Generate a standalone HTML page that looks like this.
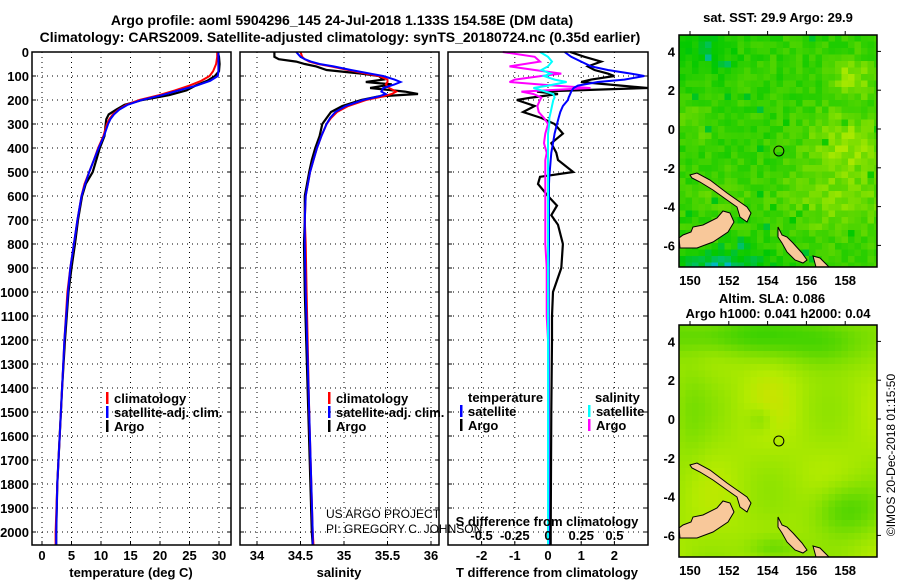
<!DOCTYPE html>
<html><head><meta charset="utf-8">
<style>
body{margin:0;background:#fff;}
svg{display:block;font-family:"Liberation Sans",sans-serif;}
.b{font-weight:bold;font-size:13px;}
.t{font-weight:bold;font-size:14px;}
</style></head>
<body>
<svg id="s" width="900" height="580" xmlns="http://www.w3.org/2000/svg">
<text class="t" x="342" y="25" text-anchor="middle">Argo profile: aoml 5904296_145 24-Jul-2018 1.133S 154.58E (DM data)</text>
<text class="t" x="340" y="42" text-anchor="middle">Climatology: CARS2009. Satellite-adjusted climatology: synTS_20180724.nc (0.35d earlier)</text>
</svg>
<script>
// ---------- data ----------
const depthTicks=[0,100,200,300,400,500,600,700,800,900,1000,1100,1200,1300,1400,1500,1600,1700,1800,1900,2000];
const tempTicks=[0,5,10,15,20,25,30];
const salTicks=[34,34.5,35,35.5,36];
const tdiffTicks=[-2,-1,0,1,2];
const sdiffTicks=[-0.5,-0.25,0,0.25,0.5];
const sdiffLabels=["-0.5","-0.25","0","0.25","0.5"];

const depthT=[0,20,50,80,100,120,140,160,180,200,220,240,260,280,300,350,400,450,500,550,600,700,800,900,1000,1200,1400,1600,1800,2000,2054];
const tempClim=[29.7,29.7,29.5,29.0,28.4,27.0,25.0,22.5,19.8,16.5,14.3,13.0,12.0,11.4,11.0,10.4,9.5,8.8,8.0,7.2,6.7,6.0,5.4,4.8,4.3,3.8,3.4,3.0,2.6,2.3,2.3];
const tempSat=[29.9,29.9,29.9,29.9,29.8,28.5,26.2,23.2,20.3,16.9,14.5,13.1,12.2,11.6,11.2,10.5,9.6,8.8,8.0,7.3,6.7,6.0,5.4,4.8,4.4,3.8,3.4,3.0,2.6,2.4,2.4];
const tempArgo=[29.8,30.0,30.1,30.0,29.3,28.0,26.0,24.5,21.5,17.0,14.0,12.6,11.3,10.9,10.8,10.6,9.8,9.2,8.6,7.4,6.8,6.1,5.6,5.0,4.5,3.9,3.4,3.0,2.6,2.4,2.4];

const depthS=[0,20,30,40,50,60,75,90,100,115,125,135,150,165,175,185,200,225,250,275,300,350,400,450,500,600,700,800,1000,1500,2000,2054];
const salClim=[34.5,34.52,34.55,34.6,34.7,34.85,35.05,35.25,35.4,35.5,35.5,35.48,35.52,35.6,35.55,35.45,35.25,35.05,34.92,34.85,34.8,34.74,34.69,34.65,34.61,34.56,34.55,34.56,34.57,34.6,34.64,34.65];
const salSat=[34.45,34.5,34.55,34.62,34.72,34.88,35.08,35.3,35.45,35.58,35.65,35.58,35.45,35.43,35.48,35.4,35.22,35.02,34.9,34.84,34.8,34.74,34.69,34.65,34.61,34.56,34.55,34.55,34.56,34.6,34.64,34.64];
const salArgo=[34.2,34.2,34.25,34.45,34.55,34.68,34.8,35.2,35.4,35.45,35.25,35.55,35.3,35.7,35.85,35.4,35.2,34.98,34.85,34.8,34.75,34.72,34.67,34.63,34.6,34.55,34.55,34.54,34.55,34.59,34.63,34.64];

const depthD=[0,20,40,60,75,90,100,115,125,140,150,165,175,190,200,225,250,275,300,340,380,420,450,500,520,550,600,640,680,720,800,900,1000,1100,1200,1500,2000,2054];
const tdiffSat=[0.5,0.7,1.0,1.3,1.8,2.5,2.9,2.3,1.5,0.9,0.77,0.7,0.67,0.62,0.6,0.45,0.37,0.32,0.27,0.2,0.15,0.1,0.08,0.05,0.04,0.03,0.03,0.03,0.03,0.03,0.03,0.02,0.02,0.02,0.02,0.02,0.02,0.02];
const tdiffArgo=[0.67,1.1,1.6,1.2,1.4,1.8,2.0,1.3,1.0,2.2,3.0,-0.33,0.3,-0.5,-0.94,-0.4,-0.75,-0.2,0.2,0.45,0.1,0.25,0.3,0.76,-0.24,-0.3,0.0,0.27,0.1,0.3,0.45,0.4,0.15,0.12,0.12,0.1,0.08,0.08];
const sdiffSat=[-0.06,0.0,0.03,0.0,-0.05,0.02,-0.03,0.05,0.14,0.0,-0.11,-0.02,0.04,0.05,0.04,0.03,0.02,0.01,0.01,0.0,0.0,0.0,0.0,0.0,0.0,0.0,0.0,0.0,0.0,0.0,0.0,0.0,0.0,0.0,0.0,0.0,0.0,0.0];
const sdiffArgo=[-0.34,-0.1,-0.06,-0.29,-0.1,0.1,-0.05,-0.25,-0.29,0.05,0.32,-0.2,-0.11,-0.05,-0.06,-0.08,-0.07,-0.03,0.0,-0.02,-0.03,-0.01,-0.02,-0.02,-0.02,-0.02,-0.02,-0.02,-0.02,-0.02,-0.02,-0.01,-0.01,-0.01,0.0,0.0,0.0,0.0];

const lonTicks=[150,152,154,156,158];
const latTicks=[4,2,0,-2,-4,-6];
const argoLon=[154.58], argoLat=[-1.133];

// ---------- helpers ----------
const NS="http://www.w3.org/2000/svg";
const S=document.getElementById('s');
function mk(tag,attrs,parent){const e=document.createElementNS(NS,tag);for(const k in attrs)e.setAttribute(k,attrs[k]);(parent||S).appendChild(e);return e;}
const Y0=52,Y1=545;
const yD=d=>Y0+d*0.24;
const xTemp=v=>42+v*5.9;
const xSal=v=>257+(v-34)*87;
const xTd=v=>548+v*33.2;
const xSd=v=>548+v*132.8;

function frame(x0,x1,name){
  const r=mk('rect',{x:x0,y:Y0,width:x1-x0,height:Y1-Y0,fill:'none',stroke:'#000','stroke-width':1.5});
  
  
}
function grid(x0,x1,xs){
  const g=mk('g',{stroke:'#000','stroke-width':1,'stroke-dasharray':'1 4'});
  
  
  depthTicks.forEach(d=>{const y=yD(d);if(d>0)mk('line',{x1:x0,x2:x1,y1:y,y2:y},g);
    mk('line',{x1:x0,x2:x0+4,y1:y,y2:y,'stroke-dasharray':'none'},g);mk('line',{x1:x1-4,x2:x1,y1:y,y2:y,'stroke-dasharray':'none'},g);});
  xs.forEach(x=>{mk('line',{x1:x,x2:x,y1:Y0,y2:Y1},g);mk('line',{x1:x,x2:x,y1:Y1-4,y2:Y1,'stroke-dasharray':'none'},g);});
}
function line(depths,vals,xf,color,name,w){
  const p=mk('polyline',{points:depths.map((d,i)=>xf(vals[i]).toFixed(1)+','+yD(d).toFixed(1)).join(' '),fill:'none',stroke:color,'stroke-width':w||2});
  
  
}
function txt(x,y,s,cls,anchor,name,extra){
  const t=mk('text',Object.assign({x:x,y:y,class:cls||'b','text-anchor':anchor||'start'},extra||{}));
  t.textContent=s;
  
  
  return t;
}
function legItem(x,y,color,label,name){
  const r=mk('rect',{x:x,y:y-11,width:2.5,height:12,fill:color});
  
  
  txt(x+8,y,label,'b','start',name);
}

// ---------- panel 1 temperature ----------
grid(32,231,tempTicks.map(xTemp));
line(depthT,tempArgo,xTemp,'#000','argo-temperature-line',2.2);
line(depthT,tempClim,xTemp,'#f00','climatology-temperature-line');
line(depthT,tempSat,xTemp,'#00f','satellite-temperature-line');
frame(32,231,'temperature-panel');
depthTicks.forEach(d=>txt(29,yD(d)+5,String(d),'b','end','depth-tick-label'));
tempTicks.forEach(v=>txt(xTemp(v),560,String(v),'b','middle','temperature-tick-label'));
txt(131,577,'temperature (deg C)','b','middle','temperature-axis-title');
legItem(106,403,'#f00','climatology','legend-climatology');
legItem(106,417,'#00f','satellite-adj. clim.','legend-satellite-adj');
legItem(106,431,'#000','Argo','legend-argo');

// ---------- panel 2 salinity ----------
grid(240,439,salTicks.map(xSal));
line(depthS,salArgo,xSal,'#000','argo-salinity-line',2.2);
line(depthS,salClim,xSal,'#f00','climatology-salinity-line');
line(depthS,salSat,xSal,'#00f','satellite-salinity-line');
frame(240,439,'salinity-panel');
salTicks.forEach(v=>txt(xSal(v),560,String(v),'b','middle','salinity-tick-label'));
txt(339,577,'salinity','b','middle','salinity-axis-title');
legItem(328,403,'#f00','climatology','legend-climatology-2');
legItem(328,417,'#00f','satellite-adj. clim.','legend-satellite-adj-2');
legItem(328,431,'#000','Argo','legend-argo-2');
txt(326,518,'US ARGO PROJECT','b','start','credit-project',{style:'font-weight:normal;font-size:12px'});
txt(326,533,'PI: GREGORY C. JOHNSON','b','start','credit-pi',{style:'font-weight:normal;font-size:12px'});

// ---------- panel 3 differences ----------
grid(448,648,tdiffTicks.map(xTd));
line(depthD,tdiffArgo,xTd,'#000','argo-temperature-difference-line',2.2);
line(depthD,sdiffArgo,xSd,'#f0f','argo-salinity-difference-line');
line(depthD,tdiffSat,xTd,'#00f','satellite-temperature-difference-line');
line(depthD,sdiffSat,xSd,'#0ff','satellite-salinity-difference-line');
frame(448,648,'difference-panel');
tdiffTicks.forEach(v=>txt(xTd(v),560,String(v),'b','middle','t-difference-tick-label'));
sdiffTicks.forEach((v,i)=>txt(xSd(v),540,sdiffLabels[i],'b','middle','s-difference-tick-label'));
txt(547,526,'S difference from climatology','b','middle','s-difference-axis-title');
txt(547,577,'T difference from climatology','b','middle','t-difference-axis-title');
txt(468,402,'temperature','b','start','legend-temperature-heading');
legItem(460,416,'#00f','satellite','legend-t-satellite');
legItem(460,430,'#000','Argo','legend-t-argo');
txt(595,402,'salinity','b','start','legend-salinity-heading');
legItem(588,416,'#0ff','satellite','legend-s-satellite');
legItem(588,430,'#f0f','Argo','legend-s-argo');

// ---------- maps ----------
const MX0=679,MX1=877;
const xLon=l=>690+(l-150)*19.4;
function hsh(i,j){let h=(i*374761393+j*668265263)^0x5bd1e995;h=(h^(h>>>13))*1274126177;return ((h^(h>>>16))>>>0)/4294967296;}
function col1(v){
  const st=[[0,[0,185,190]],[0.3,[0,200,0]],[0.55,[90,215,0]],[0.75,[180,235,0]],[0.9,[235,215,0]],[1,[245,170,0]]];
  v=Math.max(0,Math.min(1,v));
  for(let k=1;k<st.length;k++){if(v<=st[k][0]){const a=st[k-1],b=st[k],t=(v-a[0])/(b[0]-a[0]);return 'rgb('+a[1].map((c,m)=>Math.round(c+(b[1][m]-c)*t)).join(',')+')';}}
  return 'rgb(245,170,0)';
}
function gb(i,j,ci,cj,ri,rj){const a=(i-ci)/ri,b=(j-cj)/rj;return Math.exp(-(a*a+b*b));}
const landNB=[[679,238],[680,248],[697,248],[713,242],[728,232],[734,222],[730,213],[723,211],[717,218],[703,225],[693,227],[691,232],[683,235]];
const landNI=[[690,175],[697,173],[710,180],[727,193],[737,200],[747,207],[751,213],[747,222],[740,217],[737,207],[727,200],[713,190],[700,182],[692,178]];
const landBV=[[778,227],[782,235],[787,237],[793,243],[802,253],[807,260],[803,263],[795,260],[787,252],[782,243],[778,237]];
const landBK=[[813,256],[820,258],[829,267],[816,267]];
function drawMap(top,fieldFn,name){
  const g=mk('g',{});
  
  
  const cs=6.5;
  for(let i=0;i*cs<MX1-MX0;i++)for(let j=0;j*cs<232;j++){
    const x=MX0+i*cs,y=top+j*cs;
    mk('rect',{x:x,y:y,width:Math.min(cs,MX1-x)+0.3,height:Math.min(cs,top+232-y)+0.3,fill:col1(fieldFn(i,j)),'shape-rendering':'crispEdges'},g);
  }
  const dy=top-35;
  [landNB,landNI,landBV,landBK].forEach(p=>{
    const pg=mk('polygon',{points:p.map(q=>q[0]+','+(q[1]+dy)).join(' '),fill:'#f8c89a',stroke:'#000','stroke-width':1},g);
    
    
  });
  const c=mk('circle',{cx:xLon(argoLon[0]),cy:top+94+(-argoLat[0])*19.4,r:5,fill:'none',stroke:'#000','stroke-width':1});
  
  
  const f=mk('rect',{x:MX0,y:top,width:MX1-MX0,height:232,fill:'none',stroke:'#000','stroke-width':1.5});
  
  
  lonTicks.forEach(l=>{mk('line',{x1:xLon(l),x2:xLon(l),y1:top,y2:top-4,stroke:'#000'});txt(xLon(l),top+250,String(l),'b','middle','longitude-tick-label');});
  latTicks.forEach(a=>{const y=top+94-a*19.4;mk('line',{x1:MX1,x2:MX1+4,y1:y,y2:y,stroke:'#000'});txt(675,y+5,String(a),'b','end','latitude-tick-label');});
}
drawMap(35,(i,j)=>{
  let v=0.36+0.16*hsh(i,j);
  v+=0.22*gb(i,j,25,16,6,5)+0.16*gb(i,j,24,25,9,6)+0.25*gb(i,j,26,6,3,3);
  v+=0.12*gb(i,j,2,13,3,3)+0.1*gb(i,j,6,24,4,3);
  v-=0.3*gb(i,j,6,35,8,2.5)+0.15*gb(i,j,3,2,5,4);
  if(hsh(j,i)>0.97)v-=0.2;
  return v;},'sst-map');
drawMap(325,(i,j)=>{
  let v=0.72+0.05*Math.sin(i*0.35)*Math.cos(j*0.25);
  v-=0.22*gb(i,j,8,1,12,3)+0.2*gb(i,j,22,2,6,4);
  v-=0.2*gb(i,j,25,28,5,4)+0.15*gb(i,j,14,34,4,2)+0.1*gb(i,j,12,14,2,2);
  v-=0.08*gb(i,j,1,13,3,8);
  v+=0.04*gb(i,j,14,10,4,6);
  return v;},'sla-map');
txt(778,22,'sat. SST: 29.9 Argo: 29.9','b','middle','sst-map-title');
txt(772,303,'Altim. SLA: 0.086','b','middle','sla-map-title');
txt(778,318,'Argo h1000: 0.041 h2000: 0.04','b','middle','sla-map-subtitle');
txt(0,0,'©IMOS 20-Dec-2018 01:15:50','b','middle','timestamp',{transform:'translate(895,455) rotate(-90)',style:'font-weight:normal;font-size:12px'});
</script>
</body></html>
